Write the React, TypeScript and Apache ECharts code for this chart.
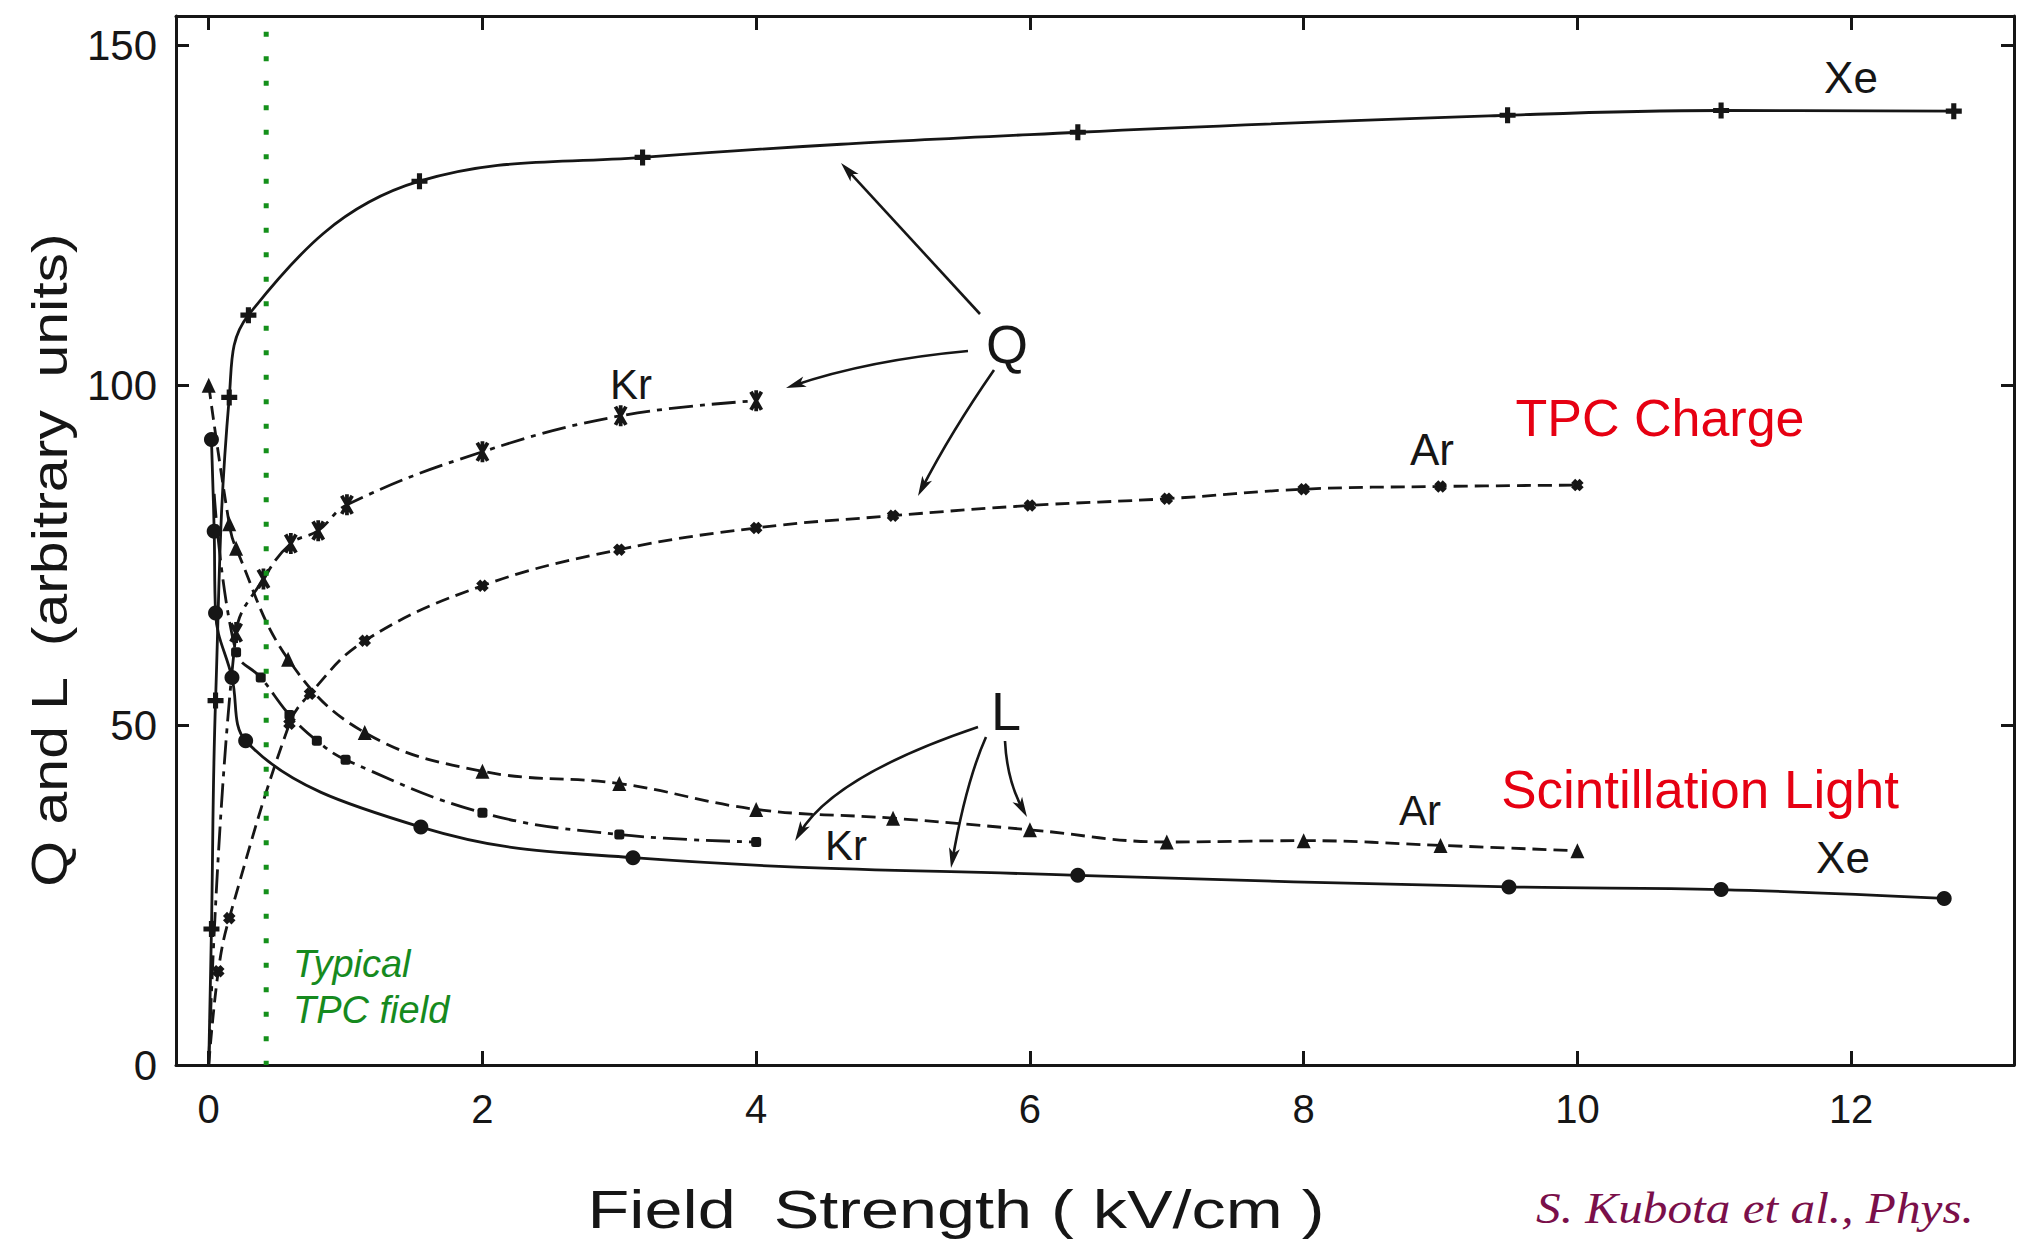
import React, { useEffect, useRef } from "react";
import * as echarts from "echarts";

// ---------------- axes ----------------
const xTickValues = [0, 2, 4, 6, 8, 10, 12];
const yTickValues = [0, 50, 100, 150];
const yRightTickValues = [50, 100, 150];
const xRange = [-0.239, 13.19];
const yRange = [0, 154.3];

// ---------------- charge Q (field kV/cm, arbitrary units) ----------------
const xeQStart = [0, 0];
const xeQField = [0.02, 0.05, 0.15, 0.29, 1.54, 3.17, 6.35, 9.49, 11.05, 12.75];
const xeQValue = [20, 53.6, 98.2, 110.3, 130, 133.5, 137.2, 139.7, 140.4, 140.3];

const krQStart = [0, 0];
const krQField = [0.2, 0.4, 0.6, 0.8, 1.01, 2.0, 3.01, 4.0];
const krQValue = [63.6, 71.5, 76.7, 78.6, 82.4, 90.2, 95.5, 97.7];

const arQStart = [0, 0];
const arQField = [0.07, 0.15, 0.59, 0.74, 1.14, 2, 3, 4, 5, 6, 7, 8, 9, 10];
const arQValue = [13.8, 21.6, 50.2, 54.6, 62.4, 70.5, 75.8, 79.0, 80.8, 82.3, 83.3, 84.7, 85.1, 85.3];

// ---------------- scintillation light L ----------------
const xeLField = [0.02, 0.04, 0.05, 0.17, 0.27, 1.55, 3.1, 6.35, 9.5, 11.05, 12.68];
const xeLValue = [92, 78.5, 66.5, 57, 47.7, 35, 30.5, 27.9, 26.2, 25.8, 24.5];

const krLStart = [0.04, 84];
const krLField = [0.2, 0.38, 0.59, 0.79, 1.0, 2.0, 3.0, 4.0];
const krLValue = [60.7, 57.0, 51.5, 47.7, 44.9, 37.1, 33.9, 32.8];

const arLField = [0, 0.15, 0.2, 0.58, 1.14, 2, 3, 4, 5, 6, 7, 8, 9, 10];
const arLValue = [100, 79.6, 76, 59.7, 48.9, 43.2, 41.4, 37.6, 36.3, 34.6, 32.8, 33, 32.3, 31.5];

const typicalTpcField = 0.42;
const typicalLineSpan = [152, 0];

// ---------------- styling ----------------
const INK = "#161616";
const SANS = '"Liberation Sans", Arial, sans-serif';
const RED = "#e60012";
const GREEN = "#14901a";
const GREEN_TEXT = "#168a1e";
const MAROON = "#7a0f4a";

const PLUS = "path://M3.4,0H6.6V3.4H10V6.6H6.6V10H3.4V6.6H0V3.4H3.4Z";
const CROSS = "path://M2.6,0H7.4V2.6H10V7.4H7.4V10H2.6V7.4H0V2.6H2.6Z";
const ASTERISK =
  "path://M4.1,0H5.9V10H4.1Z M1.72,1.12L3.28,0.22L8.28,8.88L6.72,9.78Z M6.72,0.22L8.28,1.12L3.28,9.78L1.72,8.88Z";

function pts(fields: number[], values: number[]) {
  return fields.map((f, i) => [f, values[i]]);
}
function withStart(start: number[], points: number[][]) {
  return [{ value: start, symbol: "none" }, ...points];
}

type Arrow = { from: number[]; ctrl?: number[]; to: number[] };
const annotationArrows: Arrow[] = [
  { from: [980, 314], to: [841, 163] },
  { from: [968, 351], ctrl: [869, 360], to: [786, 388] },
  { from: [994, 370], ctrl: [951, 432], to: [918, 496] },
  { from: [978, 727], ctrl: [833, 776], to: [795, 841] },
  { from: [986, 737], ctrl: [966, 782], to: [951, 868] },
  { from: [1005, 741], ctrl: [1007, 781], to: [1027, 817] },
];

function arrowElements(a: Arrow) {
  const [x0, y0] = a.from;
  const [x2, y2] = a.to;
  const [bx, by] = a.ctrl ?? a.from;
  let dx = x2 - bx;
  let dy = y2 - by;
  const len = Math.hypot(dx, dy);
  dx /= len;
  dy /= len;
  const L = 20;
  const W = 5.5;
  const shaft: any = a.ctrl
    ? {
        type: "bezierCurve",
        shape: { x1: x0, y1: y0, x2: x2 - dx * 8, y2: y2 - dy * 8, cpx1: a.ctrl[0], cpy1: a.ctrl[1] },
        style: { stroke: INK, lineWidth: 2.6, fill: "none" },
      }
    : {
        type: "line",
        shape: { x1: x0, y1: y0, x2: x2 - dx * 8, y2: y2 - dy * 8 },
        style: { stroke: INK, lineWidth: 2.6 },
      };
  const head = {
    type: "polygon",
    shape: {
      points: [
        [x2, y2],
        [x2 - dx * L - dy * W, y2 - dy * L + dx * W],
        [x2 - dx * L * 0.75, y2 - dy * L * 0.75],
        [x2 - dx * L + dy * W, y2 - dy * L - dx * W],
      ],
    },
    style: { fill: INK },
  };
  return [shaft, head];
}

function txt(text: string, x: number, y: number, font: string, fill: string, align = "center", extra: any = {}) {
  return {
    type: "text",
    x,
    y,
    ...extra,
    style: {
      text,
      font,
      fill,
      textAlign: align,
      align,
      textVerticalAlign: "middle",
      verticalAlign: "middle",
    },
  };
}

function lineSeries(name: string, data: any[], symbol: string, symbolSize: any, dash: any, extra: any = {}) {
  return {
    name,
    type: "line",
    data,
    symbol,
    symbolSize,
    symbolKeepAspect: true,
    showSymbol: true,
    smooth: 0.4,
    lineStyle: { color: INK, width: 2.8, type: dash },
    itemStyle: { color: INK },
    z: 3,
    ...extra,
  };
}

export default function App() {
  const ref = useRef<HTMLDivElement>(null);

  useEffect(() => {
    if (!ref.current) return;
    const chart = echarts.init(ref.current, null, { renderer: "svg", width: 2020, height: 1241 });

    const axisLine = { show: true, onZero: false, lineStyle: { color: INK, width: 3 } };
    const tickStyle = { color: INK, width: 3 };

    const graphicEls: any[] = [];
    annotationArrows.forEach((a) => graphicEls.push(...arrowElements(a)));
    graphicEls.push(
      txt("Xe", 1851, 77, `44px ${SANS}`, INK),
      txt("Kr", 631, 384, `42px ${SANS}`, INK),
      txt("Ar", 1432, 449, `44px ${SANS}`, INK),
      txt("Q", 1007, 344, `54px ${SANS}`, INK),
      txt("L", 1006, 711, `54px ${SANS}`, INK),
      txt("Kr", 846, 845, `42px ${SANS}`, INK),
      txt("Ar", 1420, 810, `42px ${SANS}`, INK),
      txt("Xe", 1843, 857, `44px ${SANS}`, INK),
      txt("TPC Charge", 1660, 418, `52px ${SANS}`, RED),
      txt("Scintillation Light", 1700, 789, `53px ${SANS}`, RED),
      txt("Typical", 293, 964, `italic 38px ${SANS}`, GREEN_TEXT, "left"),
      txt("TPC field", 293, 1010, `italic 38px ${SANS}`, GREEN_TEXT, "left"),
      txt("Field  Strength ( kV/cm )", 956, 1210, `53px ${SANS}`, INK, "center", { scaleX: 1.29 }),
      txt("Q and L  (arbitrary  units)", 50, 560, `50px ${SANS}`, INK, "center", {
        rotation: Math.PI / 2,
        scaleX: 1.18,
      }),
      txt("S. Kubota et al., Phys.", 1536, 1208, `italic 44px "Liberation Serif", "DejaVu Serif", serif`, MAROON, "left", {
        scaleX: 1.12,
      })
    );

    const option: any = {
      animation: false,
      backgroundColor: "#ffffff",
      grid: { left: 176, right: 6, top: 16, bottom: 176, containLabel: false },
      xAxis: [
        {
          type: "value",
          position: "bottom",
          min: xRange[0],
          max: xRange[1],
          axisLine,
          axisTick: { show: true, inside: true, length: 14, lineStyle: tickStyle, customValues: xTickValues },
          axisLabel: {
            show: true,
            customValues: xTickValues,
            fontSize: 40,
            fontFamily: SANS,
            color: INK,
            margin: 24,
          },
          splitLine: { show: false },
        },
        {
          type: "value",
          position: "top",
          min: xRange[0],
          max: xRange[1],
          axisLine,
          axisTick: { show: true, inside: true, length: 14, lineStyle: tickStyle, customValues: xTickValues },
          axisLabel: { show: false },
          splitLine: { show: false },
        },
      ],
      yAxis: [
        {
          type: "value",
          position: "left",
          min: yRange[0],
          max: yRange[1],
          axisLine,
          axisTick: { show: true, inside: true, length: 13, lineStyle: tickStyle, customValues: yTickValues },
          axisLabel: {
            show: true,
            customValues: yTickValues,
            fontSize: 42,
            fontFamily: SANS,
            color: INK,
            margin: 19,
          },
          splitLine: { show: false },
        },
        {
          type: "value",
          position: "right",
          min: yRange[0],
          max: yRange[1],
          axisLine,
          axisTick: { show: true, inside: true, length: 13, lineStyle: tickStyle, customValues: yRightTickValues },
          axisLabel: { show: false },
          splitLine: { show: false },
        },
      ],
      series: [
        lineSeries("Xe Q", withStart(xeQStart, pts(xeQField, xeQValue)), PLUS, 16, "solid"),
        lineSeries("Kr Q", withStart(krQStart, pts(krQField, krQValue)), ASTERISK, 21, [24, 7, 5, 7]),
        lineSeries("Ar Q", withStart(arQStart, pts(arQField, arQValue)), CROSS, 12, [14, 7], { symbolRotate: 45 }),
        lineSeries("Xe L", pts(xeLField, xeLValue), "circle", 15, "solid"),
        lineSeries("Kr L", withStart(krLStart, pts(krLField, krLValue)), "roundRect", 10, [24, 7, 5, 7]),
        lineSeries("Ar L", pts(arLField, arLValue), "triangle", [14, 15], [14, 7]),
        {
          name: "Typical TPC field",
          type: "line",
          data: typicalLineSpan.map((v) => [typicalTpcField, v]),
          symbol: "none",
          lineStyle: { color: GREEN, width: 5, type: [5, 19.5], cap: "butt" },
          z: 5,
        },
      ],
      graphic: { elements: graphicEls },
    };

    chart.setOption(option);
    return () => chart.dispose();
  }, []);

  return (
    <div
      ref={ref}
      style={{ position: "absolute", left: 0, top: 0, width: 2020, height: 1241, background: "#fff" }}
    />
  );
}
